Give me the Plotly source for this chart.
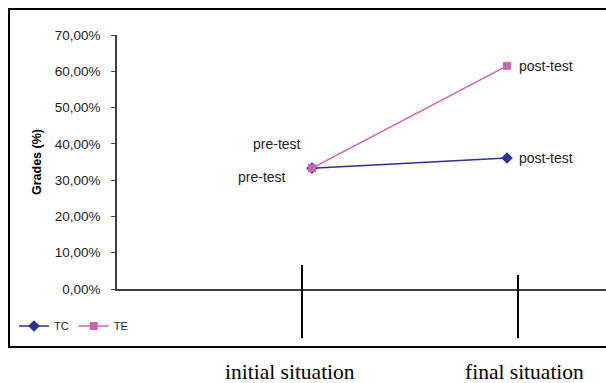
import plotly.graph_objects as go

categories = ["initial situation", "final situation"]
tc_values = [0.333, 0.361]
te_values = [0.333, 0.615]
tc_labels = ["pre-test", "post-test"]
te_labels = ["pre-test", "post-test"]
y_ticks = [0, 0.1, 0.2, 0.3, 0.4, 0.5, 0.6, 0.7]

W, H = 606, 383
FONT = "Liberation Sans, Arial"

def px(y):
    return (H - y) / H

fig = go.Figure()
fig.add_trace(go.Scatter(
    x=categories, y=tc_values, name="TC", mode="lines+markers",
    line=dict(color="#2E3192", width=1.5),
    marker=dict(symbol="diamond", size=9, color="#2E3192"),
    cliponaxis=False,
))
fig.add_trace(go.Scatter(
    x=categories, y=te_values, name="TE", mode="lines+markers",
    line=dict(color="#C864B4", width=1.5),
    marker=dict(symbol="square", size=8, color="#C864B4"),
    cliponaxis=False,
))

# category pixel positions: 312 and 507
x_left = 117 / W
c0, c1 = 312, 507
scale = c1 - c0
xr = [(117 - c0) / scale, (W - c0) / scale]

shapes = [
    dict(type="rect", xref="paper", yref="paper", x0=9 / W, x1=1.02,
         y0=px(347), y1=px(9), line=dict(color="black", width=2)),
]
vline_px = [302, 518]
vtops = [265, 275]
for i, c in enumerate(categories):
    xv = (vline_px[i] - c0) / scale
    shapes.append(dict(type="line", xref="x", yref="paper",
                       x0=xv, x1=xv, y0=px(338), y1=px(vtops[i]),
                       line=dict(color="black", width=2)))

annotations = []
cat_shifts = [-22, 17]
for i, c in enumerate(categories):
    annotations.append(dict(x=i, xref="x", y=px(372), yref="paper",
                            text=c, showarrow=False, xshift=cat_shifts[i],
                            font=dict(family="Liberation Serif, Times New Roman", size=21.5, color="black"),
                            yanchor="middle", xanchor="center"))

lab_font = dict(family=FONT, size=14, color="#222222")
annotations.append(dict(x=0, y=te_values[0], text=te_labels[0], showarrow=False,
                        xanchor="right", yanchor="middle", xshift=-9, yshift=24, font=lab_font))
annotations.append(dict(x=0, y=tc_values[0], text=tc_labels[0], showarrow=False,
                        xanchor="right", yanchor="middle", xshift=-24, yshift=-9, font=lab_font))
annotations.append(dict(x=1, y=te_values[1], text=te_labels[1], showarrow=False,
                        xanchor="left", yanchor="middle", xshift=10, yshift=0, font=lab_font))
annotations.append(dict(x=1, y=tc_values[1], text=tc_labels[1], showarrow=False,
                        xanchor="left", yanchor="middle", xshift=10, yshift=0, font=lab_font))

fig.update_layout(
    width=W, height=H,
    margin=dict(l=0, r=0, t=0, b=0, pad=0),
    paper_bgcolor="white", plot_bgcolor="white",
    separators=",.",
    showlegend=True,
    legend=dict(orientation="h", x=14 / W, y=px(326), xanchor="left", yanchor="middle",
                font=dict(family=FONT, size=11, color="#222222"),
                bgcolor="rgba(0,0,0,0)", itemwidth=30, tracegroupgap=0),
    xaxis=dict(domain=[x_left, 1.0], type="category", range=xr, automargin=False,
               showticklabels=False, showline=True, linecolor="#404040", linewidth=1.5,
               showgrid=False, zeroline=False, ticks=""),
    yaxis=dict(domain=[px(289), px(35)], range=[0, 0.7], tickvals=y_ticks, automargin=False,
               tickformat=".2%", ticks="outside", ticklen=4, tickcolor="#404040",
               ticklabelstandoff=8,
               showline=True, linecolor="#404040", linewidth=1.5,
               showgrid=False, zeroline=False,
               tickfont=dict(family=FONT, size=13.5, color="#222222"),
               title=dict(text="<b>Grades (%)</b>", standoff=10,
                          font=dict(family=FONT, size=12.5, color="black"))),
    shapes=shapes,
    annotations=annotations,
)

fig.write_html("out.html", config={"displayModeBar": False},
               post_script="document.body.style.margin='0';")
